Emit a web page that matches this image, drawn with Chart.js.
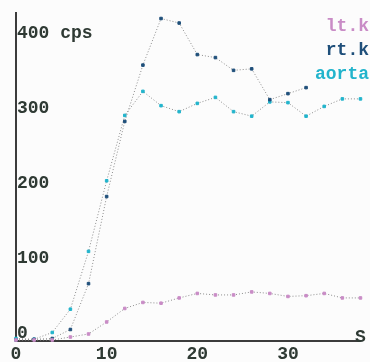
<!DOCTYPE html>
<html>
<head>
<meta charset="utf-8">
<script src="https://cdn.jsdelivr.net/npm/chart.js@4/dist/chart.umd.min.js"></script>
<style>
  html, body { margin: 0; padding: 0; background: #fcfcfc; }
  #wrap { width: 370px; height: 362px; position: relative; }
</style>
</head>
<body>
<div id="wrap"><canvas id="c"></canvas></div>
<script>
// Sample times (s) and count rates (cps) for each region of interest
const times = [0, 2, 4, 6, 8, 10, 12, 14, 16, 18, 20, 22, 24, 26, 28, 30, 32, 34, 36, 38];
const ltK   = [0, 0, 0, 4, 8, 24, 42, 50, 49, 56, 62, 60, 60, 64, 62, 58, 59, 62, 56, 56];
const rtK   = [0, 1, 2, 14, 75, 191, 291, 366, 428, 422, 380, 376, 359, 361, 320, 328, 336];
const aorta = [2, 1, 10, 41, 118, 212, 299, 331, 312, 304, 315, 323, 304, 298, 317, 316, 298, 311, 321, 321];

const yTicks = [0, 100, 200, 300, 400];
const xTicks = [0, 10, 20, 30];
const seriesNames = ['lt.k', 'rt.k', 'aorta'];
const seriesColors = ['#c98cc6', '#1f4f7a', '#22b4cc'];

function toPoints(vals) {
  return vals.map((v, i) => ({ x: times[i], y: v }));
}

const monoFont = 'bold 18px "Liberation Mono", "DejaVu Sans Mono", monospace';

const axesPlugin = {
  id: 'plotAxes',
  beforeDatasetsDraw(chart) {
    const ctx = chart.ctx;
    const xs = chart.scales.x, ys = chart.scales.y;
    const x0 = xs.getPixelForValue(0);
    const y0 = ys.getPixelForValue(0) + 1;
    ctx.save();
    ctx.strokeStyle = '#3c3c3c';
    ctx.lineWidth = 2;
    ctx.beginPath();
    ctx.moveTo(x0, 12);
    ctx.lineTo(x0, y0);
    ctx.lineTo(360, y0);
    ctx.stroke();
    ctx.restore();
  },
  afterDraw(chart) {
    const ctx = chart.ctx;
    const xs = chart.scales.x, ys = chart.scales.y;
    const x0 = xs.getPixelForValue(0);
    ctx.save();
    ctx.font = monoFont;
    ctx.fillStyle = '#2f3a34';
    ctx.textBaseline = 'alphabetic';
    ctx.textAlign = 'left';
    yTicks.forEach(v => {
      const label = v === 400 ? v + ' cps' : String(v);
      ctx.fillText(label, x0 + 1, ys.getPixelForValue(v) - 2);
    });
    ctx.textAlign = 'center';
    ctx.textBaseline = 'top';
    xTicks.forEach(t => {
      ctx.fillText(String(t), xs.getPixelForValue(t), 345);
    });
    ctx.textAlign = 'left';
    ctx.textBaseline = 'alphabetic';
    ctx.fillText('S', 355, 342);

    // series names, stacked at the top right
    ctx.textAlign = 'right';
    seriesNames.forEach((name, i) => {
      ctx.fillStyle = seriesColors[i];
      ctx.fillText(name, 369, 31 + i * 24);
    });
    ctx.restore();
  }
};

function dataset(label, vals, color) {
  return {
    label,
    data: toPoints(vals),
    borderColor: '#8c8c8c',
    borderWidth: 1,
    borderDash: [1, 2],
    pointBackgroundColor: color,
    pointBorderColor: color,
    pointRadius: 1.8,
    pointStyle: 'rect',
    tension: 0,
    clip: false,
    fill: false
  };
}

new Chart(document.getElementById('c'), {
  type: 'line',
  data: {
    datasets: [
      dataset(seriesNames[0], ltK, seriesColors[0]),
      dataset(seriesNames[1], rtK, seriesColors[1]),
      dataset(seriesNames[2], aorta, seriesColors[2])
    ]
  },
  options: {
    responsive: true,
    maintainAspectRatio: false,
    animation: false,
    devicePixelRatio: 1,
    layout: { padding: { left: 16, top: 0, right: 0, bottom: 22 } },
    scales: {
      x: { type: 'linear', min: 0, max: 38.5, display: false },
      y: { type: 'linear', min: 0, max: 446, display: false }
    },
    plugins: { legend: { display: false }, tooltip: { enabled: false } }
  },
  plugins: [axesPlugin]
});
</script>
</body>
</html>
